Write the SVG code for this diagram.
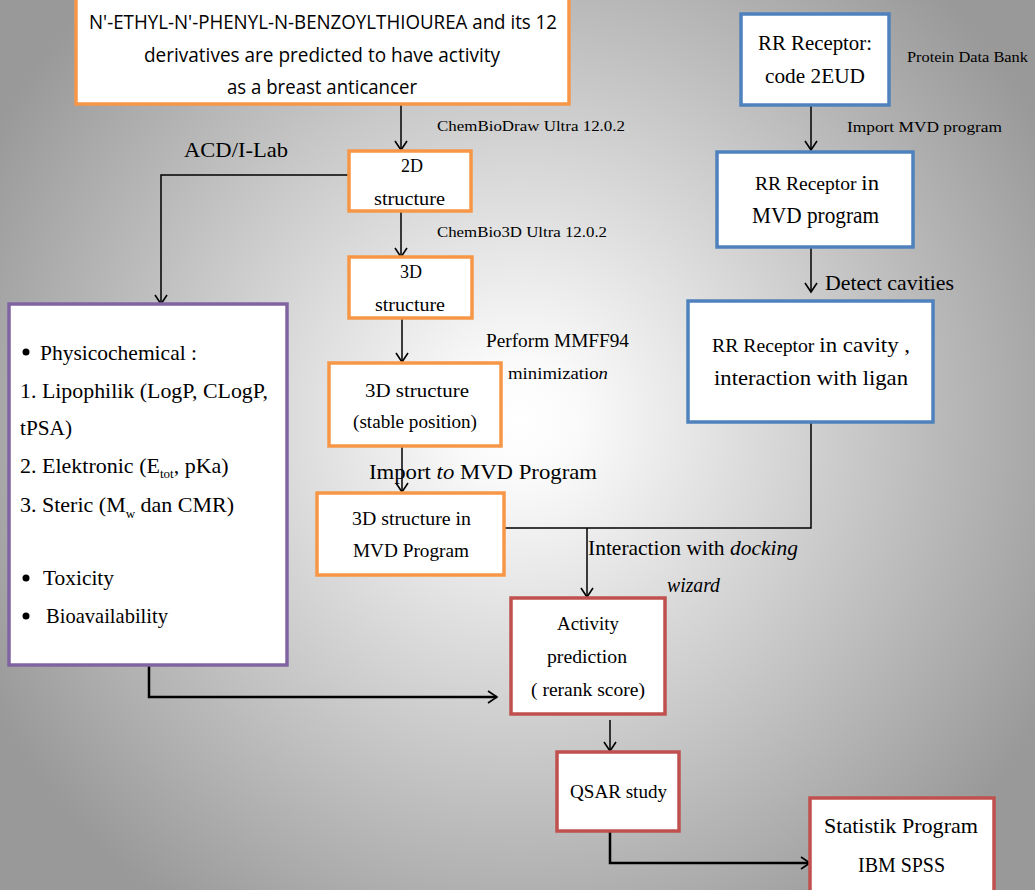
<svg xmlns="http://www.w3.org/2000/svg" width="1035" height="890" viewBox="0 0 1035 890">
<defs>
<radialGradient id="bg" gradientUnits="userSpaceOnUse" cx="520" cy="420" r="600">
<stop offset="0" stop-color="#ffffff"/>
<stop offset="0.1" stop-color="#fafafa"/>
<stop offset="1" stop-color="#999999"/>
</radialGradient>
<marker id="ah" markerWidth="12" markerHeight="14" refX="10" refY="7" orient="auto" markerUnits="userSpaceOnUse">
<path d="M1,1 L10,7 L1,13" fill="none" stroke="#000" stroke-width="1.6"/>
</marker>
<style>
.box{fill:#fff;stroke-width:3.5}
.or{stroke:#F79646}
.bl{stroke:#4F81BD}
.pu{stroke:#8064A2}
.rd{stroke:#C0504D}
.ln{fill:none;stroke:#000;stroke-width:1.5}
.lt{fill:none;stroke:#000;stroke-width:2.5}
.s{font-family:"Liberation Serif","Times New Roman",serif;fill:#000}
.a{font-family:"Open Sans","Liberation Sans",Arial,sans-serif;fill:#000}
.i{font-style:italic}
</style>
</defs>
<rect x="0" y="0" width="1035" height="890" fill="url(#bg)"/>

<g id="connectors">
<path class="ln" d="M401,105 V150" marker-end="url(#ah)"/>
<path class="ln" d="M349,175 H161 V304" marker-end="url(#ah)"/>
<path class="ln" d="M401,211 V257" marker-end="url(#ah)"/>
<path class="ln" d="M402,318 V362" marker-end="url(#ah)"/>
<path class="ln" d="M402,446 V492" marker-end="url(#ah)"/>
<path class="ln" d="M504,528 H811 V411"/>
<path class="ln" d="M587,528 V597" marker-end="url(#ah)"/>
<path class="ln" d="M811,105 V150" marker-end="url(#ah)"/>
<path class="ln" d="M811,247 V292" marker-end="url(#ah)"/>
<path class="lt" d="M149,665 V697 H497" marker-end="url(#ah)"/>
<path class="ln" d="M610,720 V751" marker-end="url(#ah)"/>
<path class="lt" d="M610,831 V863 H810" marker-end="url(#ah)"/>
</g>

<g id="edge-labels">
<text class="s" x="437" y="131" font-size="15" textLength="188" lengthAdjust="spacingAndGlyphs">ChemBioDraw Ultra 12.0.2</text>
<text class="s" x="184" y="157" font-size="22" textLength="104" lengthAdjust="spacingAndGlyphs">ACD/I-Lab</text>
<text class="s" x="437" y="237" font-size="15" textLength="170" lengthAdjust="spacingAndGlyphs">ChemBio3D Ultra 12.0.2</text>
<text class="s" x="486" y="347" font-size="18" textLength="143" lengthAdjust="spacingAndGlyphs">Perform MMFF94</text>
<text class="s" x="508" y="379" font-size="17" textLength="100" lengthAdjust="spacingAndGlyphs">minimizatio<tspan class="i">n</tspan></text>
<text class="s" x="369" y="479" font-size="22" textLength="228" lengthAdjust="spacingAndGlyphs">Import <tspan class="i">to</tspan>  MVD Program</text>
<text class="s" x="588" y="555" font-size="21" textLength="210" lengthAdjust="spacingAndGlyphs">Interaction with <tspan class="i">docking</tspan></text>
<text class="s i" x="667" y="592" font-size="20" textLength="53" lengthAdjust="spacingAndGlyphs">wizard</text>
<text class="s" x="907" y="62" font-size="15" textLength="121" lengthAdjust="spacingAndGlyphs">Protein Data Bank</text>
<text class="s" x="847" y="132" font-size="15" textLength="155" lengthAdjust="spacingAndGlyphs">Import  MVD program</text>
<text class="s" x="825" y="290" font-size="22" textLength="129" lengthAdjust="spacingAndGlyphs">Detect cavities</text>
</g>

<g id="node-title">
<rect class="box or" x="76" y="-2" width="493" height="106"/>
<text class="a" x="89" y="29" font-size="20" textLength="468" lengthAdjust="spacingAndGlyphs">N'-ETHYL-N'-PHENYL-N-BENZOYLTHIOUREA and its 12</text>
<text class="a" x="144" y="62" font-size="20" textLength="356" lengthAdjust="spacingAndGlyphs">derivatives are predicted to have activity</text>
<text class="a" x="227" y="94" font-size="20" textLength="190" lengthAdjust="spacingAndGlyphs">as a breast anticancer</text>
</g>

<g id="node-2d">
<rect class="box or" x="349" y="151" width="122" height="60"/>
<text class="s" x="412" y="172" font-size="18" text-anchor="middle">2D</text>
<text class="s" x="374" y="205" font-size="18" textLength="71" lengthAdjust="spacingAndGlyphs">structure</text>
</g>

<g id="node-3d">
<rect class="box or" x="349" y="257" width="123" height="61"/>
<text class="s" x="411" y="278" font-size="18" text-anchor="middle">3D</text>
<text class="s" x="375" y="311" font-size="18" textLength="70" lengthAdjust="spacingAndGlyphs">structure</text>
</g>

<g id="node-stable">
<rect class="box or" x="329" y="363" width="172" height="83"/>
<text class="s" x="365" y="397" font-size="18" textLength="104" lengthAdjust="spacingAndGlyphs">3D  structure</text>
<text class="s" x="353" y="428" font-size="18" textLength="124" lengthAdjust="spacingAndGlyphs">(stable position)</text>
</g>

<g id="node-mvd3d">
<rect class="box or" x="317" y="493" width="187" height="82"/>
<text class="s" x="352" y="525" font-size="18" textLength="119" lengthAdjust="spacingAndGlyphs">3D structure in</text>
<text class="s" x="353" y="557" font-size="18" textLength="116" lengthAdjust="spacingAndGlyphs">MVD Program</text>
</g>

<g id="node-receptor">
<rect class="box bl" x="741" y="14" width="148" height="91"/>
<text class="s" x="758" y="50" font-size="22" textLength="114" lengthAdjust="spacingAndGlyphs">RR Receptor:</text>
<text class="s" x="765" y="83" font-size="22" textLength="100" lengthAdjust="spacingAndGlyphs">code 2EUD</text>
</g>

<g id="node-receptor-mvd">
<rect class="box bl" x="717" y="152" width="196" height="95"/>
<text class="s" x="755" y="190" font-size="19" textLength="124" lengthAdjust="spacingAndGlyphs">RR Receptor <tspan font-size="22">in</tspan></text>
<text class="s" x="752" y="223" font-size="23" textLength="127" lengthAdjust="spacingAndGlyphs">MVD program</text>
</g>

<g id="node-cavity">
<rect class="box bl" x="688" y="301" width="245" height="121"/>
<text class="s" x="712" y="352" font-size="19" textLength="198" lengthAdjust="spacingAndGlyphs">RR Receptor <tspan font-size="22">in  cavity ,</tspan></text>
<text class="s" x="714" y="385" font-size="22" textLength="194" lengthAdjust="spacingAndGlyphs">interaction  with  ligan</text>
</g>

<g id="node-properties">
<rect class="box pu" x="9" y="304" width="278" height="361"/>
<circle cx="26" cy="352" r="3.5" fill="#000"/>
<text class="s" x="40" y="360" font-size="22" textLength="157" lengthAdjust="spacingAndGlyphs">Physicochemical :</text>
<text class="s" x="20" y="398" font-size="22" textLength="248" lengthAdjust="spacingAndGlyphs">1. Lipophilik (LogP, CLogP,</text>
<text class="s" x="20" y="435" font-size="22" textLength="52" lengthAdjust="spacingAndGlyphs">tPSA)</text>
<text class="s" x="20" y="473" font-size="22">2. Elektronic (E<tspan font-size="13" dy="5">tot</tspan><tspan dy="-5">, pKa)</tspan></text>
<text class="s" x="20" y="512" font-size="22">3. Steric (M<tspan font-size="13" dy="6">w</tspan><tspan dy="-6"> dan CMR)</tspan></text>
<circle cx="26" cy="578" r="3.5" fill="#000"/>
<text class="s" x="43" y="585" font-size="22" textLength="71" lengthAdjust="spacingAndGlyphs">Toxicity</text>
<circle cx="26" cy="616" r="3.5" fill="#000"/>
<text class="s" x="46" y="623" font-size="22" textLength="122" lengthAdjust="spacingAndGlyphs">Bioavailability</text>
</g>

<g id="node-activity">
<rect class="box rd" x="511" y="598" width="154" height="116"/>
<text class="s" x="557" y="630" font-size="19" textLength="62" lengthAdjust="spacingAndGlyphs">Activity</text>
<text class="s" x="547" y="663" font-size="19" textLength="80" lengthAdjust="spacingAndGlyphs">prediction</text>
<text class="s" x="531" y="696" font-size="19" textLength="114" lengthAdjust="spacingAndGlyphs">( rerank score)</text>
</g>

<g id="node-qsar">
<rect class="box rd" x="557" y="752" width="122" height="79"/>
<text class="s" x="570" y="798" font-size="19" textLength="97" lengthAdjust="spacingAndGlyphs">QSAR study</text>
</g>

<g id="node-spss">
<rect class="box rd" x="810" y="798" width="184" height="100"/>
<text class="s" x="824" y="833" font-size="22" textLength="154" lengthAdjust="spacingAndGlyphs">Statistik Program</text>
<text class="s" x="858" y="872" font-size="22" textLength="87" lengthAdjust="spacingAndGlyphs">IBM SPSS</text>
</g>
</svg>
